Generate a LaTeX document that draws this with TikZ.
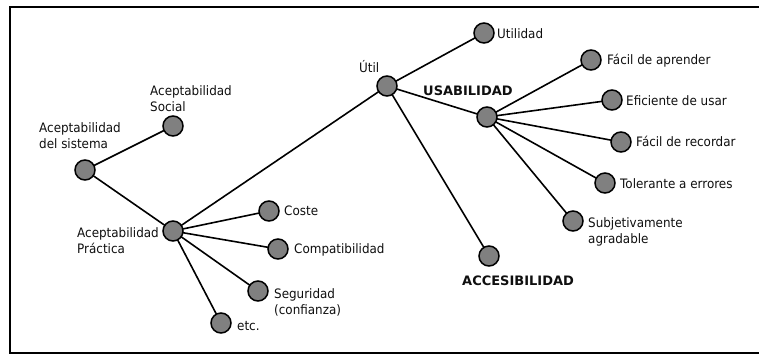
\documentclass[tikz,border=0pt]{standalone}
\usepackage{fontspec}
\setmainfont{DejaVu Sans}[FakeStretch=0.92]
\newfontfamily\boldlabel{DejaVu Sans Bold}
\definecolor{nodegray}{RGB}{128,128,128}
\definecolor{labelink}{RGB}{15,15,15}
\begin{document}
\begin{tikzpicture}[x=1pt,y=-1pt,
  dot/.style={circle,draw=black,line width=1.5pt,fill=nodegray,minimum size=20pt,inner sep=0pt},
  link/.style={line width=1.6pt,black},
  % multi-line labels are placed by the baseline of their last line
  lbl/.style={inner sep=0pt,anchor=base west,text=labelink,font=\fontsize{13}{16}\selectfont,align=left},
  blbl/.style={inner sep=0pt,anchor=base west,text=labelink,font=\boldlabel\fontsize{13}{16}\selectfont}]
\useasboundingbox (0,0) rectangle (759,354);
% frame (its right side runs past the page edge)
\draw[line width=2.2pt] (775,7) -- (10,7) -- (10,353) -- (775,353);

\coordinate (sis) at (85,170);
\coordinate (soc) at (173,126);
\coordinate (prac) at (173,231);
\coordinate (coste) at (269,211);
\coordinate (compat) at (278,249);
\coordinate (seg) at (258,291);
\coordinate (etc) at (221,323);
\coordinate (util) at (387,86);
\coordinate (utilidad) at (484,33);
\coordinate (usab) at (487,117);
\coordinate (fap) at (591,60);
\coordinate (efi) at (612,100);
\coordinate (frec) at (621,142);
\coordinate (tol) at (605,183);
\coordinate (subj) at (573,221);
\coordinate (acc) at (489,256);

% links first, so the dots sit on top
\draw[link] (sis) -- (soc);
\draw[link] (sis) -- (prac);
\draw[link] (prac) -- (coste);
\draw[link] (prac) -- (compat);
\draw[link] (prac) -- (seg);
\draw[link] (prac) -- (etc);
\draw[link] (prac) -- (util);
\draw[link] (util) -- (utilidad);
\draw[link] (util) -- (usab);
\draw[link] (util) -- (acc);
\draw[link] (usab) -- (fap);
\draw[link] (usab) -- (efi);
\draw[link] (usab) -- (frec);
\draw[link] (usab) -- (tol);
\draw[link] (usab) -- (subj);

\foreach \n in {sis,soc,prac,coste,compat,seg,etc,util,utilidad,usab,fap,efi,frec,tol,subj,acc}
  \node[dot] (d-\n) at (\n) {};

% labels
\node[lbl] (t-soc) at (150,111) {Aceptabilidad\\Social};
\node[lbl] (t-sis) at (39,148) {Aceptabilidad\\del sistema};
\node[lbl] (t-prac) at (77,253) {Aceptabilidad\\Práctica};
\node[lbl] (t-coste) at (284,215) {Coste};
\node[lbl] (t-compat) at (294,253) {Compatibilidad};
\node[lbl] (t-seg) at (274,314) {Seguridad\\(confianza)};
\node[lbl] (t-etc) at (237,330) {etc.};
\node[lbl] (t-util) at (359,72) {Útil};
\node[lbl] (t-utilidad) at (497,38) {Utilidad};
\node[lbl] (t-fap) at (607,64) {Fácil de aprender};
\node[lbl] (t-efi) at (626,105) {Eficiente de usar};
\node[lbl] (t-frec) at (636,146) {Fácil de recordar};
\node[lbl] (t-tol) at (620,188) {Tolerante a errores};
\node[lbl] (t-subj) at (588,243) {Subjetivamente\\agradable};
\node[blbl] (t-usab) at (423,95) {USABILIDAD};
\node[blbl] (t-acc) at (462,285) {ACCESIBILIDAD};
\end{tikzpicture}
\end{document}
